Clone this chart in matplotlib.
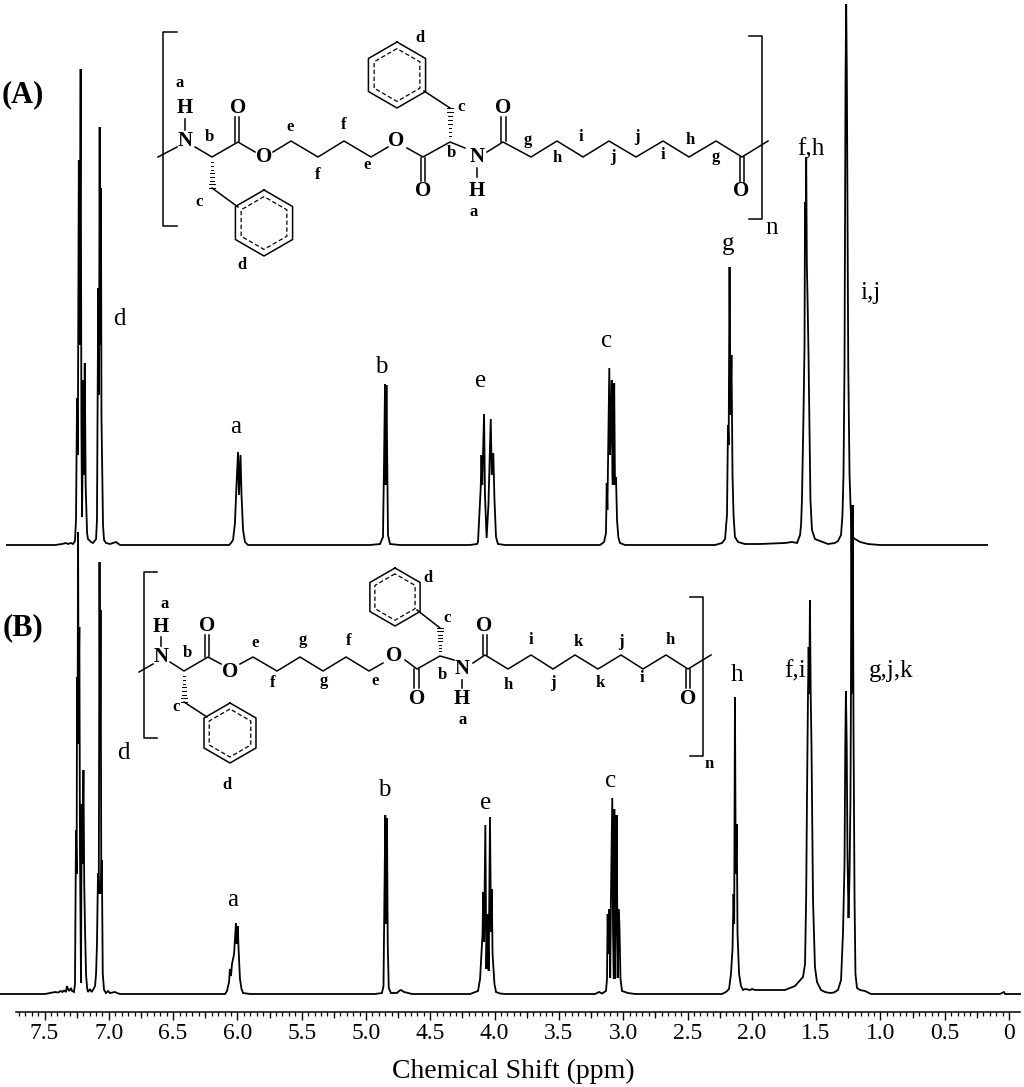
import numpy as np
import matplotlib
matplotlib.use("Agg")
import matplotlib.pyplot as plt

plt.rcParams['font.family'] = ['Liberation Serif', 'DejaVu Serif']

# spectrum A, ppm and intensity above its own baseline
ppm_a = [7.792, 7.418, 7.364, 7.333, 7.317, 7.294, 7.278, 7.263, 7.255, 7.247, 7.241, 7.233, 7.227, 7.219, 7.213,
         7.208, 7.197, 7.194, 7.187, 7.180, 7.173, 7.169, 7.162, 7.138, 7.123, 7.099, 7.092, 7.082, 7.076, 7.071,
         7.067, 7.061, 7.057, 7.045, 7.037, 7.022, 6.991, 6.944, 6.913, 6.835,
         6.065, 6.050, 6.034, 6.019, 6.007, 5.995, 5.988, 5.976, 5.968, 5.956, 5.941, 5.918,
         4.969, 4.891, 4.868, 4.860, 4.852, 4.847, 4.841, 4.834, 4.829, 4.813, 4.736,
         4.191, 4.137, 4.129, 4.108, 4.102, 4.096, 4.082, 4.075, 4.062, 4.048, 4.040, 4.030, 4.022, 4.010, 4.001,
         3.989, 3.974, 3.919,
         3.180, 3.149, 3.134, 3.128, 3.123, 3.116, 3.108, 3.103, 3.096, 3.089, 3.084, 3.081, 3.077, 3.070, 3.064,
         3.056, 3.048, 3.038, 3.025, 2.986,
         2.286, 2.232, 2.208, 2.193, 2.185, 2.180, 2.173, 2.166, 2.158, 2.150, 2.142, 2.131, 2.107, 2.053, 1.936,
         1.742, 1.687, 1.648, 1.625, 1.617, 1.610, 1.598, 1.590, 1.586, 1.582, 1.577, 1.572, 1.567, 1.559, 1.551,
         1.544, 1.532, 1.509, 1.470, 1.407, 1.353, 1.330, 1.306, 1.295, 1.287, 1.279, 1.275, 1.271, 1.266, 1.261,
         1.256, 1.250, 1.240, 1.228, 1.217, 1.197, 1.158, 1.096, 1.003, 0.171]
int_a = [0, 0, 1, 2, 1, 2, 1, 4, 25, 147, 90, 385, 200, 476, 120,
         28, 165, 70, 182, 60, 30, 12, 6, 3, 2, 6, 25, 257, 150, 418,
         200, 357, 128, 20, 5, 2, 1, 3, 0, 0,
         0, 2, 5, 22, 60, 93, 50, 90, 50, 15, 3, 0,
         0, 1, 8, 80, 161, 60, 160, 70, 10, 1, 0,
         0, 1, 3, 57, 90, 60, 131, 50, 7, 40, 80, 126, 70, 92, 45,
         8, 1, 0,
         0, 3, 12, 62, 35, 100, 177, 90, 120, 165, 70, 60, 90, 162, 60,
         68, 25, 8, 2, 0,
         0, 2, 6, 30, 120, 100, 278, 130, 190, 70, 30, 8, 3, 1, 1,
         2, 3, 2, 10, 20, 45, 130, 200, 343, 300, 388, 280, 250, 190, 110,
         45, 15, 6, 4, 1, 2, 4, 10, 30, 70, 180, 340, 470, 541, 470,
         340, 180, 70, 25, 8, 6, 3, 1, 0, 0]

# spectrum B
ppm_b = [7.846, 7.496, 7.457, 7.418, 7.395, 7.372, 7.360, 7.348, 7.333, 7.325, 7.317, 7.309, 7.294, 7.286, 7.271,
         7.263, 7.255, 7.250, 7.247, 7.243, 7.239, 7.235, 7.229, 7.224, 7.216, 7.211, 7.206, 7.197, 7.191, 7.185,
         7.177, 7.169, 7.162, 7.146, 7.134, 7.123, 7.107, 7.099, 7.092, 7.084, 7.078, 7.072, 7.068, 7.064, 7.058,
         7.054, 7.047, 7.037, 7.022, 7.006, 6.991, 6.952, 6.936, 6.913,
         6.096, 6.081, 6.065, 6.058, 6.050, 6.042, 6.034, 6.026, 6.019, 6.011, 6.005, 5.997, 5.991, 5.980, 5.968,
         5.956, 5.902,
         4.930, 4.876, 4.864, 4.856, 4.850, 4.845, 4.837, 4.831, 4.823, 4.806, 4.759, 4.743, 4.728, 4.704, 4.673,
         4.642,
         4.191, 4.129, 4.113, 4.100, 4.094, 4.088, 4.082, 4.072, 4.064, 4.055, 4.046, 4.036, 4.028, 4.022, 4.016,
         4.010, 4.001, 3.989, 3.958, 3.919,
         3.219, 3.188, 3.165, 3.134, 3.126, 3.121, 3.113, 3.107, 3.101, 3.095, 3.085, 3.079, 3.073, 3.069, 3.064,
         3.056, 3.051, 3.043, 3.037, 3.030, 3.021, 3.009, 2.963, 2.908,
         2.232, 2.201, 2.177, 2.162, 2.150, 2.142, 2.137, 2.131, 2.125, 2.117, 2.111, 2.099, 2.084, 2.068, 2.053,
         2.014, 1.998, 1.975, 1.742, 1.664, 1.602, 1.586, 1.577, 1.571, 1.563, 1.558, 1.553, 1.548, 1.542, 1.536,
         1.532, 1.524, 1.516, 1.509, 1.493, 1.462, 1.431, 1.392, 1.361, 1.330, 1.306, 1.291, 1.279, 1.273, 1.268,
         1.262, 1.256, 1.248, 1.240, 1.233, 1.229, 1.225, 1.219, 1.215, 1.209, 1.201, 1.194, 1.182, 1.158, 1.120,
         1.073, 0.459, 0.070, 0.039, 0.031, -0.086]
int_b = [0, 0, 1, 2, 1.5, 3, 2, 3.5, 2, 8, 5, 3, 6, 3, 2,
         10, 164, 120, 317, 250, 462, 300, 367, 140, 11, 190, 130, 224, 110, 66,
         20, 6, 2, 5, 2, 4, 8, 20, 50, 121, 100, 432, 250, 384, 100,
         134, 20, 4, 1, 3, 1, 2, 1, 0,
         0, 3, 12, 25, 18, 30, 35, 40, 55, 71, 50, 68, 45, 15, 5,
         1, 0,
         0, 1, 8, 110, 179, 70, 176, 50, 6, 1, 1, 3, 4, 2, 1,
         0,
         0, 3, 15, 45, 60, 102, 52, 169, 25, 80, 23, 177, 62, 105, 40,
         28, 10, 2, 0.5, 0,
         0, 2, 0.5, 3, 15, 80, 40, 85, 16, 100, 196, 60, 15, 185, 15,
         95, 179, 16, 85, 72, 15, 3, 1, 0,
         0, 2, 5, 20, 45, 100, 70, 297, 120, 170, 60, 20, 8, 4, 5,
         4, 5, 4, 4, 8, 17, 30, 100, 194, 300, 347, 300, 394, 300, 250,
         194, 94, 60, 27, 12, 4, 2, 1, 1.5, 4, 14, 61, 130, 250, 303,
         250, 140, 76, 120, 194, 300, 489, 300, 489, 264, 94, 20, 6, 4, 3,
         0, 0, 0, 2, 0, 0]

tick_major = [7.5, 7.0, 6.5, 6.0, 5.5, 5.0, 4.5, 4.0, 3.5, 3.0, 2.5, 2.0, 1.5, 1.0, 0.5, 0.0]
tick_labels = ['7.5', '7.0', '6.5', '6.0', '5.5', '5.0', '4.5', '4.0', '3.5', '3.0', '2.5', '2.0', '1.5', '1.0', '0.5', '0']
tick_minor = [round(7.7 - 0.05 * i, 2) for i in range(155)]
tick_mid = [7.25, 6.75, 6.25, 5.75, 5.25, 4.75, 4.25, 3.75, 3.25, 2.75, 2.25, 1.75, 1.25, 0.75, 0.25]

# peak assignments written over the spectra: (x, y, text) in figure pixels
peak_labels = [(119, 319, 'd'), (236, 427, 'a'), (381, 367, 'b'), (481, 381, 'e'), (607, 341, 'c'), (728, 244, 'g'),
               (811, 149, 'f,h'), (871, 293, 'i,j'), (772, 228, 'n'),
               (123, 753, 'd'), (233, 900, 'a'), (384, 790, 'b'), (486, 803, 'e'), (611, 781, 'c'), (737, 675, 'h'),
               (795, 671, 'f,i'), (891, 671, 'g,j,k')]

# structure A
atoms_a = [(185, 141, 'N'), (185, 108, 'H'), (238, 108, 'O'), (264, 157, 'O'), (396, 141, 'O'), (423, 191, 'O'),
           (477, 157, 'N'), (477, 191, 'H'), (503, 108, 'O'), (741, 191, 'O')]
small_a = [(180, 83, 'a'), (209, 137, 'b'), (199, 202, 'c'), (242, 265, 'd'), (290, 127, 'e'), (344, 125, 'f'),
           (318, 175, 'f'), (367, 165, 'e'), (451, 153, 'b'), (461, 107, 'c'), (420, 38, 'd'), (474, 212, 'a'),
           (528, 140, 'g'), (557, 158, 'h'), (581, 137, 'i'), (613, 157, 'j'), (637, 137, 'j'), (663, 155, 'i'),
           (690, 140, 'h'), (716, 157, 'g')]
bonds_a = [[(177, 32), (163, 32), (163, 226), (177, 226)], [(749, 36), (762, 36), (762, 219), (749, 219)],
           [(158, 157), (177, 147)], [(185, 119), (185, 130)], [(195, 147), (212, 157), (238, 142), (255, 152)],
           [(235, 117), (235, 142)], [(239, 117), (239, 141)],
           [(273, 152), (291, 141), (318, 157), (344, 141), (371, 157), (388, 147)],
           [(407, 148), (423, 157), (450, 142), (465, 148)], [(421, 158), (421, 181)], [(425, 158), (425, 181)],
           [(477, 168), (477, 177)], [(450, 108), (424, 91)], [(212, 188), (238, 207)],
           [(487, 152), (503, 142), (531, 157), (557, 141), (583, 157), (609, 141), (636, 157), (663, 141),
            (689, 157), (716, 141), (742, 157), (768, 141)],
           [(501, 117), (501, 142)], [(506, 117), (506, 141)], [(740, 157), (740, 182)], [(744, 157), (744, 182)]]
hash_a = [((212, 157), (212, 188)), ((450, 142), (450, 108))]
rings_a = [(264, 223, 33), (397, 75, 33)]

# structure B
atoms_b = [(161, 657, 'N'), (161, 627, 'H'), (207, 626, 'O'), (230, 672, 'O'), (394, 656, 'O'), (417, 699, 'O'),
           (462, 669, 'N'), (462, 699, 'H'), (484, 626, 'O'), (688, 699, 'O')]
small_b = [(165, 604, 'a'), (187, 653, 'b'), (176, 707, 'c'), (227, 785, 'd'), (255, 643, 'e'), (303, 640, 'g'),
           (349, 641, 'f'), (273, 683, 'f'), (324, 681, 'g'), (375, 681, 'e'), (442, 675, 'b'), (447, 618, 'c'),
           (428, 578, 'd'), (463, 720, 'a'), (508, 685, 'h'), (553, 683, 'j'), (600, 683, 'k'), (642, 678, 'i'),
           (531, 640, 'i'), (578, 642, 'k'), (621, 642, 'j'), (670, 640, 'h'), (709, 764, 'n')]
bonds_b = [[(157, 572), (144, 572), (144, 738), (157, 738)], [(690, 597), (703, 597), (703, 756), (690, 756)],
           [(139, 672), (153, 664)], [(161, 637), (161, 646)], [(170, 662), (184, 671), (208, 657), (221, 664)],
           [(205, 635), (205, 657)], [(209, 635), (209, 656)],
           [(240, 664), (253, 657), (277, 671), (300, 657), (323, 671), (346, 657), (369, 671), (383, 663)],
           [(405, 660), (417, 669), (440, 656), (454, 660)], [(414, 669), (414, 688)], [(419, 669), (419, 688)],
           [(462, 680), (462, 688)], [(440, 628), (417, 610)], [(184, 702), (207, 717)],
           [(473, 663), (485, 655), (508, 669), (531, 655), (553, 669), (575, 655), (598, 669), (621, 655),
            (643, 669), (666, 655), (688, 669), (711, 655)],
           [(483, 635), (483, 655)], [(487, 635), (487, 655)], [(686, 669), (686, 688)], [(690, 669), (690, 688)]]
hash_b = [((184, 671), (184, 702)), ((440, 656), (440, 628))]
rings_b = [(230, 733, 30), (395, 597, 29)]


def draw_hash(ax, start, end):
    # hashed stereo bond, strokes widen towards the far end
    for t in np.linspace(0.05, 1, 9):
        x = start[0] + (end[0] - start[0]) * t
        y = start[1] + (end[1] - start[1]) * t
        ax.plot([x - 3 * t, x + 3 * t], [y, y], color='black', lw=0.7)


def draw_ring(ax, cx, cy, r):
    ang = np.deg2rad(np.arange(90, 451, 60))
    ax.plot(cx + r * np.cos(ang), cy - r * np.sin(ang), color='black', lw=1.1)
    ax.plot(cx + 0.8 * r * np.cos(ang), cy - 0.8 * r * np.sin(ang), color='black', lw=0.9, dashes=(3.5, 2))


def draw_structure(ax, atoms, small, bonds, hashes, rings):
    for b in bonds:
        ax.plot([p[0] for p in b], [p[1] for p in b], color='black', lw=1.1, solid_capstyle='projecting')
    for h in hashes:
        draw_hash(ax, h[0], h[1])
    for r in rings:
        draw_ring(ax, r[0], r[1], r[2])
    for x, y, s in atoms:
        ax.text(x, y, s, fontsize=15, fontweight='bold', ha='center', va='center')
    for x, y, s in small:
        ax.text(x, y, s, fontsize=12, fontweight='bold', ha='center', va='center')


def main():
    fig = plt.figure(figsize=(10.24, 10.87), dpi=100)

    # one pixel of height is one intensity unit, B sits on zero and A is lifted above it
    ax = fig.add_axes([0, 0, 1, 1])
    ax.set_xlim(1009 / 128.6, -15 / 128.6)
    ax.set_ylim(-93, 994)
    ax.plot(ppm_a, np.array(int_a) + 449, color='black', lw=1.3, solid_joinstyle='miter')
    ax.plot(ppm_b, int_b, color='black', lw=1.3, solid_joinstyle='miter')

    for s in ['top', 'left', 'right']:
        ax.spines[s].set_visible(False)
    ax.spines['bottom'].set_position(('data', -18))
    ax.spines['bottom'].set_bounds(7.72, -0.086)
    ax.spines['bottom'].set_linewidth(1.1)
    ax.set_yticks([])
    ax.set_xticks(tick_major)
    ax.set_xticklabels(tick_labels, fontsize=17)
    ax.set_xticks(tick_minor, minor=True)
    ax.tick_params(axis='x', which='major', length=6, width=1.0, pad=2)
    ax.tick_params(axis='x', which='minor', length=3, width=0.9)
    ax.vlines(tick_mid, -18, -23.5, color='black', lw=0.9)
    ax.patch.set_alpha(0)

    # pixel layer for the structures and the assignments
    over = fig.add_axes([0, 0, 1, 1])
    over.set_xlim(0, 1024)
    over.set_ylim(1087, 0)
    over.axis('off')

    draw_structure(over, atoms_a, small_a, bonds_a, hash_a, rings_a)
    draw_structure(over, atoms_b, small_b, bonds_b, hash_b, rings_b)

    for x, y, s in peak_labels:
        over.text(x, y, s, fontsize=18, ha='center', va='center')
    over.text(23, 95, '(A)', fontsize=22, fontweight='bold', ha='center', va='center')
    over.text(23, 628, '(B)', fontsize=22, fontweight='bold', ha='center', va='center')
    over.text(513, 1071, 'Chemical Shift (ppm)', fontsize=20, ha='center', va='center')

    fig.savefig('out.png', dpi=100)


if __name__ == "__main__":
    main()
